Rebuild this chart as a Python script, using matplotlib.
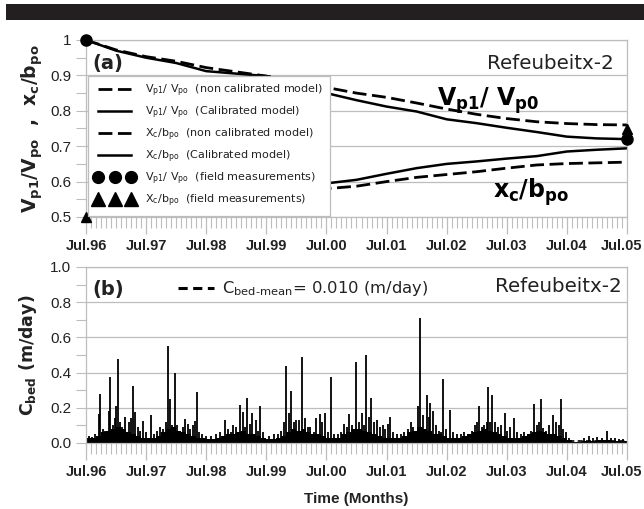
import matplotlib
matplotlib.use("Agg")
import matplotlib.pyplot as plt
from matplotlib.patches import Rectangle
from matplotlib.lines import Line2D
from matplotlib.transforms import ScaledTranslation
import numpy as np

# ---------------- data ----------------
months = [0, 6, 12, 18, 24, 30, 36, 42, 48, 54, 60, 66, 72, 78, 84, 90, 96, 102, 108]
vp_noncal = [1.0, 0.972, 0.953, 0.94, 0.922, 0.91, 0.898, 0.885, 0.866, 0.85, 0.838,
             0.822, 0.805, 0.79, 0.778, 0.769, 0.764, 0.761, 0.76]
vp_cal = [1.0, 0.97, 0.95, 0.935, 0.912, 0.905, 0.898, 0.877, 0.85, 0.83, 0.812,
          0.798, 0.776, 0.765, 0.752, 0.74, 0.727, 0.722, 0.72]
xc_noncal = [0.5, 0.508, 0.518, 0.527, 0.535, 0.545, 0.555, 0.568, 0.58, 0.587, 0.60,
             0.612, 0.62, 0.628, 0.638, 0.647, 0.651, 0.653, 0.655]
xc_cal = [0.5, 0.508, 0.518, 0.527, 0.536, 0.547, 0.56, 0.575, 0.595, 0.605, 0.622,
          0.638, 0.65, 0.657, 0.665, 0.672, 0.685, 0.69, 0.694]
field_m = [0, 108]
field_vp = [1.0, 0.72]
field_xc = [0.5, 0.748]

year_labels = ["Jul.96", "Jul.97", "Jul.98", "Jul.99", "Jul.00",
               "Jul.01", "Jul.02", "Jul.03", "Jul.04", "Jul.05"]

# monthly baseline of daily C_bed (dense low values)
base_c = [0.03, 0.03, 0.04, 0.06, 0.07, 0.08, 0.09, 0.08, 0.06, 0.05, 0.04, 0.03,
          0.03, 0.03, 0.04, 0.06, 0.08, 0.09, 0.07, 0.06, 0.05, 0.04, 0.03, 0.03,
          0.02, 0.02, 0.03, 0.04, 0.05, 0.05, 0.06, 0.07, 0.05, 0.05, 0.04, 0.03,
          0.02, 0.02, 0.03, 0.04, 0.06, 0.08, 0.07, 0.08, 0.06, 0.05, 0.05, 0.04,
          0.03, 0.03, 0.03, 0.05, 0.06, 0.08, 0.08, 0.07, 0.06, 0.05, 0.04, 0.03,
          0.03, 0.03, 0.03, 0.04, 0.06, 0.07, 0.09, 0.08, 0.07, 0.05, 0.05, 0.04,
          0.03, 0.03, 0.03, 0.04, 0.05, 0.06, 0.07, 0.08, 0.07, 0.06, 0.05, 0.04,
          0.03, 0.03, 0.03, 0.04, 0.05, 0.06, 0.07, 0.06, 0.05, 0.05, 0.04, 0.03,
          0.015, 0.005, 0.005, 0.01, 0.012, 0.012, 0.015, 0.015, 0.015, 0.012, 0.01, 0.01]

spike_m = [0.5, 1.2, 1.8, 2.5, 2.7, 3.3, 3.8, 4.5, 4.8, 5.3, 5.7, 6.0, 6.3, 6.8, 7.2, 7.7,
           8.2, 8.6, 9.0, 9.4, 9.8, 10.4, 10.8, 11.4, 12.0, 12.9, 13.5, 14.2, 14.8, 15.4,
           16.0, 16.4, 16.8, 17.2, 17.7, 18.2, 18.8, 19.3, 19.7, 20.3, 20.8, 21.4, 21.8,
           22.1, 22.6, 23.2, 24.0, 25.0, 26.0, 26.8, 27.7, 28.3, 29.0, 29.4, 30.0, 30.7,
           31.4, 31.8, 32.2, 32.7, 33.1, 33.9, 34.3, 34.7, 35.3, 36.5, 37.5, 38.3, 39.0,
           39.5, 40.0, 40.5, 41.0, 41.5, 42.0, 42.5, 43.2, 43.7, 44.3, 44.8, 45.5, 46.0,
           46.7, 47.2, 47.7, 48.3, 49.0, 49.6, 50.3, 51.0, 51.5, 52.1, 52.5, 53.2, 54.0,
           54.5, 55.0, 55.5, 55.9, 56.4, 56.9, 57.4, 58.0, 58.6, 59.2, 59.7, 60.2, 60.6,
           61.2, 62.0, 62.8, 63.5, 64.2, 64.8, 65.3, 65.8, 66.3, 66.7, 67.2, 68.0, 68.4,
           68.7, 69.3, 69.8, 70.4, 70.9, 71.3, 71.8, 72.7, 73.2, 74.0, 74.8, 75.5, 76.3,
           77.0, 77.6, 78.0, 78.4, 79.0, 79.5, 80.0, 80.3, 80.7, 81.1, 81.6, 82.2, 82.8,
           83.6, 84.0, 84.6, 85.4, 86.0, 86.8, 87.5, 88.2, 88.8, 89.5, 90.0, 90.4, 90.8,
           91.3, 91.8, 92.5, 93.2, 93.9, 94.4, 94.8, 95.3, 95.9, 96.4, 99.5, 100.5, 101.2,
           102.0, 103.0, 104.0, 104.8, 105.7, 106.5, 107.3]
spike_v = [0.04, 0.035, 0.05, 0.165, 0.28, 0.08, 0.07, 0.18, 0.375, 0.1, 0.14, 0.21, 0.477,
           0.12, 0.09, 0.15, 0.06, 0.12, 0.14, 0.325, 0.175, 0.09, 0.07, 0.125, 0.06, 0.16,
           0.05, 0.07, 0.09, 0.08, 0.12, 0.553, 0.25, 0.1, 0.396, 0.10, 0.07, 0.09, 0.135,
           0.11, 0.08, 0.10, 0.125, 0.29, 0.06, 0.05, 0.04, 0.04, 0.05, 0.06, 0.13, 0.08,
           0.06, 0.10, 0.09, 0.215, 0.175, 0.09, 0.255, 0.11, 0.17, 0.13, 0.07, 0.21, 0.06,
           0.04, 0.05, 0.05, 0.07, 0.12, 0.437, 0.17, 0.295, 0.12, 0.13, 0.13, 0.487, 0.14,
           0.09, 0.09, 0.06, 0.14, 0.165, 0.12, 0.17, 0.06, 0.377, 0.05, 0.05, 0.06, 0.11,
           0.09, 0.165, 0.10, 0.458, 0.12, 0.17, 0.10, 0.5, 0.15, 0.257, 0.12, 0.13, 0.09,
           0.10, 0.08, 0.11, 0.15, 0.06, 0.05, 0.05, 0.06, 0.08, 0.12, 0.09, 0.07, 0.21,
           0.708, 0.16, 0.275, 0.15, 0.225, 0.18, 0.10, 0.07, 0.06, 0.364, 0.08, 0.19, 0.06,
           0.05, 0.05, 0.06, 0.05, 0.07, 0.10, 0.12, 0.21, 0.09, 0.10, 0.12, 0.316, 0.12,
           0.27, 0.12, 0.09, 0.10, 0.17, 0.07, 0.09, 0.14, 0.06, 0.05, 0.06, 0.05, 0.07,
           0.22, 0.10, 0.12, 0.25, 0.085, 0.07, 0.10, 0.16, 0.12, 0.10, 0.25, 0.08, 0.06,
           0.03, 0.03, 0.04, 0.03, 0.035, 0.03, 0.07, 0.03, 0.03, 0.02, 0.02]
c_mean = 0.010

# ---------------- figure ----------------
W, H = 644, 509
fig = plt.figure(figsize=(W / 100, H / 100), dpi=100)
fig.patches.append(Rectangle((6 / W, 1 - 20 / H), 1, 16 / H, transform=fig.transFigure,
                             facecolor="#231f20", edgecolor="none"))

GRID = "#bdbdbd"
TXT = "#222222"
TICKFONT = "Liberation Sans"
left, right = 86 / W, 627 / W


def style_axes(ax):
    for s in ax.spines.values():
        s.set_color(GRID)
        s.set_linewidth(0.9)
    ax.set_xlim(0, 108)
    ax.set_xticks(np.arange(0, 109, 12))
    ax.set_xticks(np.arange(0, 109, 1), minor=True)
    ax.set_xticklabels(year_labels, fontfamily=TICKFONT, fontweight="bold", fontsize=10.5,
                       color=TXT)
    ax.tick_params(axis="x", which="major", length=12, color=GRID, width=0.9, pad=4)
    ax.tick_params(axis="x", which="minor", length=8, color=GRID, width=0.8)
    ax.tick_params(axis="y", which="both", length=7, color=GRID, width=0.8)
    ax.yaxis.grid(True, which="major", color=GRID, linewidth=0.9)
    ax.set_axisbelow(True)
    last = ax.get_xticklabels()[-1]
    last.set_transform(last.get_transform() + ScaledTranslation(-5 / 100, 0,
                                                                fig.dpi_scale_trans))


# ---- panel (a) ----
axa = fig.add_axes([left, 1 - 217 / H, right - left, (217 - 40) / H])
style_axes(axa)
axa.set_ylim(0.5, 1.0)
axa.set_yticks([0.5, 0.6, 0.7, 0.8, 0.9, 1.0])
axa.set_yticklabels(["0.5", "0.6", "0.7", "0.8", "0.9", "1"], fontfamily=TICKFONT,
                    fontsize=11, color=TXT)
axa.set_yticks(np.arange(0.55, 1.0, 0.1), minor=True)

dash = (0, (5, 2))
l1, = axa.plot(months, vp_noncal, color="black", lw=2.0, linestyle=dash)
l2, = axa.plot(months, vp_cal, color="black", lw=1.8)
l3, = axa.plot(months, xc_noncal, color="black", lw=2.0, linestyle=dash)
l4, = axa.plot(months, xc_cal, color="black", lw=1.8)
axa.plot(field_m[:1], field_vp[:1], "o", color="black", ms=8, clip_on=False, zorder=5)
axa.plot(field_m[1:], field_vp[1:], "o", color="black", ms=8, clip_on=False, zorder=5)
axa.plot(field_m[:1], field_xc[:1], "^", color="black", ms=7, clip_on=False, zorder=5)
axa.plot(field_m[1:], field_xc[1:], "^", color="black", ms=7, clip_on=False, zorder=5)

h5 = Line2D([], [], color="black", marker="o", ms=8.5, linestyle="none")
h6 = Line2D([], [], color="black", marker="^", ms=10, linestyle="none")
leg = axa.legend([l1, l2, l3, l4, h5, h6],
                 ["V$_{\\mathregular{p1}}$/ V$_{\\mathregular{po}}$  (non calibrated model)",
                  "V$_{\\mathregular{p1}}$/ V$_{\\mathregular{po}}$  (Calibrated model)",
                  "X$_{\\mathregular{c}}$/b$_{\\mathregular{po}}$  (non calibrated model)",
                  "X$_{\\mathregular{c}}$/b$_{\\mathregular{po}}$  (Calibrated model)",
                  "V$_{\\mathregular{p1}}$/ V$_{\\mathregular{po}}$  (field measurements)",
                  "X$_{\\mathregular{c}}$/b$_{\\mathregular{po}}$  (field measurements)"],
                 loc="lower left", bbox_to_anchor=(0.004, 0.008), numpoints=3,
                 prop={"family": "DejaVu Sans", "size": 8}, frameon=True, fancybox=False,
                 framealpha=1, edgecolor=GRID, handlelength=3.6, labelspacing=0.5,
                 borderpad=0.6, handletextpad=0.9, borderaxespad=0)
leg.get_frame().set_linewidth(0.9)
for t in leg.get_texts():
    t.set_color(TXT)

axa.text(0.012, 0.87, "(a)", transform=axa.transAxes, fontsize=14, fontweight="bold",
         fontfamily="DejaVu Sans", color=TXT, va="center")
axa.text(0.976, 0.87, "Refeubeitx-2", transform=axa.transAxes, fontsize=14.3,
         fontfamily="DejaVu Sans", color=TXT, ha="right", va="center")
axa.text(0.648, 0.66, r"V$_{\mathbf{p1}}$/ V$_{\mathbf{p0}}$", transform=axa.transAxes,
         fontsize=17, fontweight="bold", fontfamily="DejaVu Sans", color="black",
         va="center")
axa.text(0.752, 0.14, r"x$_{\mathbf{c}}$/b$_{\mathbf{po}}$", transform=axa.transAxes,
         fontsize=17, fontweight="bold", fontfamily="DejaVu Sans", color="black",
         va="center")
axa.set_ylabel(r"V$_{\mathbf{p1}}$/V$_{\mathbf{po}}$  ,  x$_{\mathbf{c}}$/b$_{\mathbf{po}}$",
               fontsize=13.5, fontweight="bold", fontfamily="DejaVu Sans", color=TXT,
               labelpad=4)

# ---- panel (b) ----
axb = fig.add_axes([left, 1 - 443 / H, right - left, (443 - 267) / H])
style_axes(axb)
axb.set_ylim(0, 1.0)
axb.set_yticks(np.arange(0, 1.01, 0.2))
axb.set_yticklabels(["0.0", "0.2", "0.4", "0.6", "0.8", "1.0"], fontfamily=TICKFONT,
                    fontsize=11, color=TXT)
axb.set_yticks(np.arange(0.1, 1.0, 0.2), minor=True)

edges = np.arange(0, 109)
axb.stairs(base_c, edges, fill=True, color="black", linewidth=0)
axb.vlines(spike_m, 0, spike_v, color="black", linewidth=1.3)
axb.axhline(c_mean, color="black", lw=1.2, linestyle=(0, (3, 2)), zorder=1)

mean_h = Line2D([], [], color="black", lw=2.2, linestyle=(0, (3, 1.8)))
leg2 = axb.legend([mean_h], [r"C$_{\mathregular{bed\text{-}mean}}$= 0.010 (m/day)"],
                  loc="center left", bbox_to_anchor=(0.158, 0.875), frameon=False,
                  prop={"family": "DejaVu Sans", "size": 11.8}, handlelength=2.2,
                  handletextpad=0.5, borderaxespad=0)
for t in leg2.get_texts():
    t.set_color(TXT)
axb.text(0.012, 0.875, "(b)", transform=axb.transAxes, fontsize=14, fontweight="bold",
         fontfamily="DejaVu Sans", color=TXT, va="center")
axb.text(0.99, 0.89, "Refeubeitx-2", transform=axb.transAxes, fontsize=14.3,
         fontfamily="DejaVu Sans", color=TXT, ha="right", va="center")
axb.set_ylabel(r"C$_{\mathbf{bed}}$ (m/day)", fontsize=12.5, fontweight="bold",
               fontfamily="DejaVu Sans", color=TXT, labelpad=8)
axb.set_xlabel("Time (Months)", fontsize=11, fontweight="bold", fontfamily=TICKFONT,
               color=TXT, labelpad=9)

fig.savefig("out.png", dpi=100)
